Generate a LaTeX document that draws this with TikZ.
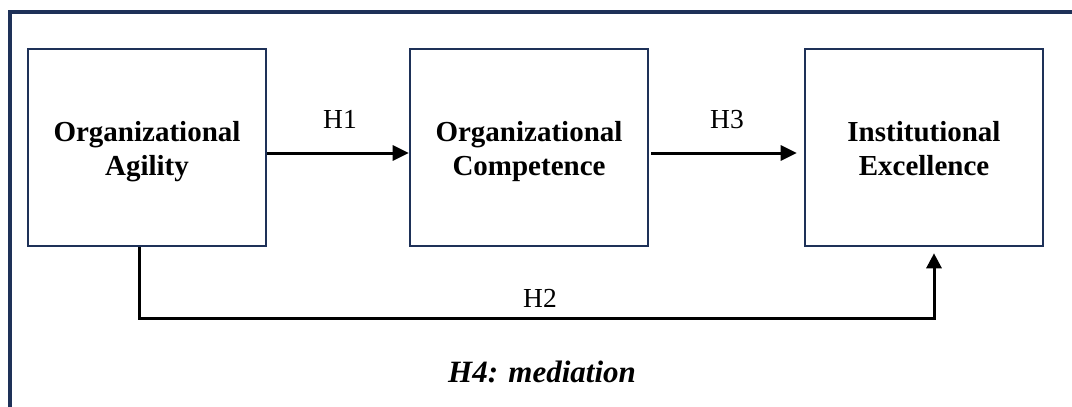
\documentclass[tikz,border=0pt]{standalone}
\usepackage{fontspec}
\setmainfont{Liberation Serif}
\usetikzlibrary{arrows.meta}
\definecolor{navy}{RGB}{30,49,88}
\tikzset{
  varbox/.style={draw=navy, line width=2.6pt, minimum width=238pt, minimum height=197pt,
    inner sep=0pt},
  boxtext/.style={align=center, inner sep=0pt, font=\fontsize{29}{34}\selectfont\bfseries},
  hyp/.style={anchor=base, inner sep=0pt, font=\fontsize{27.5}{33}\selectfont},
  link/.style={line width=3pt, -{Triangle[length=16pt,width=15pt]}},
}
\begin{document}
\begin{tikzpicture}[x=1pt,y=1pt]
  \useasboundingbox (0,0) rectangle (1072,-407);
  \clip (0,0) rectangle (1072,-407);
  % outer frame, open to the right and bottom
  \draw[navy, line width=4pt] (10,-420) -- (10,-12) -- (1090,-12);

  % constructs
  \node[varbox] (oa) at (147,-147.5) {};
  \node[varbox] (oc) at (529,-147.5) {};
  \node[varbox] (ie) at (924,-147.5) {};
  \node[boxtext] (oa-t) at ([yshift=-3.7pt]oa.center) {\strut Organizational\\\strut Agility};
  \node[boxtext] (oc-t) at ([yshift=-3.7pt]oc.center) {\strut Organizational\\\strut Competence};
  \node[boxtext] (ie-t) at ([yshift=-3.7pt]ie.center) {\strut Institutional\\\strut Excellence};

  % direct paths
  \draw[link] ([yshift=-5.5pt]oa.east) -- ([yshift=-5.5pt]oc.west);
  \draw[link] ([xshift=2pt,yshift=-5.5pt]oc.east) -- ([xshift=-7pt,yshift=-5.5pt]ie.west);
  \coordinate (c1) at ([xshift=-8pt]oa.south);
  \coordinate (c2) at ([xshift=10pt,yshift=-6pt]ie.south);
  \draw[line width=3pt, -{Triangle[length=15pt,width=15pt]}]
    (c1) -- ++(0,-71) -| (c2);

  % hypothesis labels
  \node[hyp] (h1) at (340,-128) {H1};
  \node[hyp] (h3) at (727,-128) {H3};
  \node[hyp] (h2) at (540,-307) {H2};
  \node[anchor=base, inner sep=0pt, font=\fontsize{31}{37}\selectfont\bfseries\itshape]
    (h4) at (542,-382) {H4: mediation};
\end{tikzpicture}
\end{document}
